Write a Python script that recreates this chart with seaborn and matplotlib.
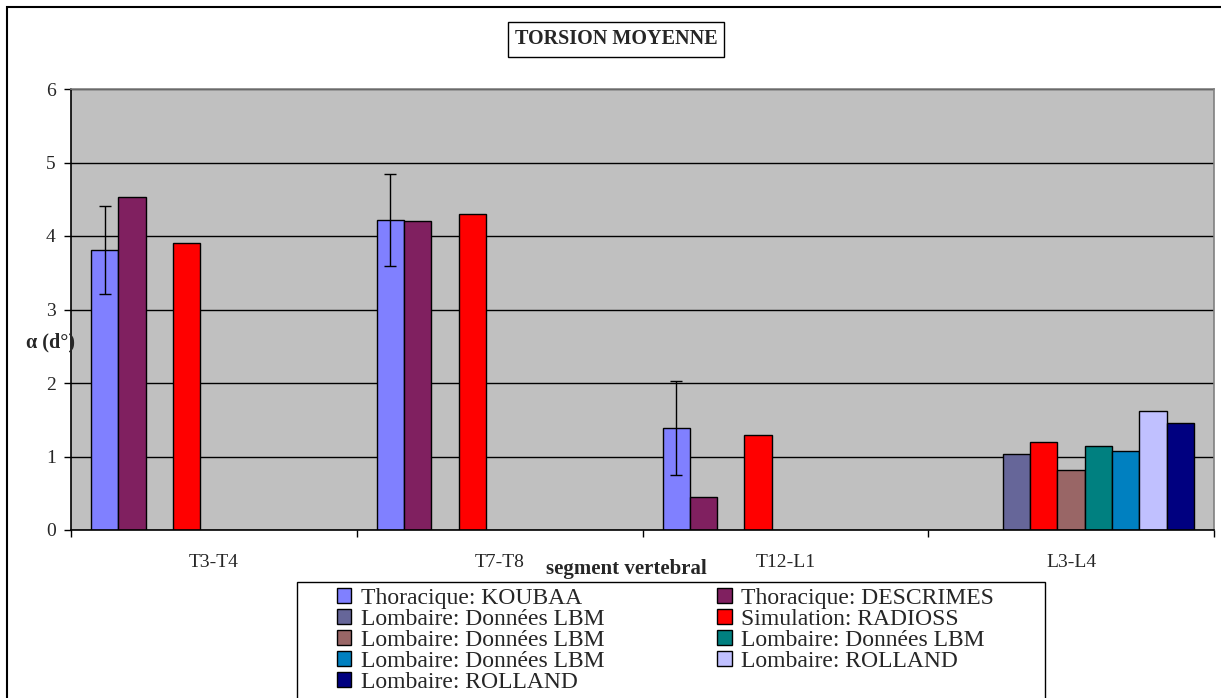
import matplotlib
matplotlib.use('Agg')
import matplotlib.pyplot as plt
from matplotlib.patches import Patch, Rectangle
import seaborn as sns
import pandas as pd
import numpy as np

# categories and series
segments = ['T3-T4', 'T7-T8', 'T12-L1', 'L3-L4']
series_labels = ['Thoracique: KOUBAA', 'Thoracique: DESCRIMES', 'Lombaire: Données LBM',
                 'Simulation: RADIOSS', 'Lombaire: Données LBM', 'Lombaire: Données LBM',
                 'Lombaire: Données LBM', 'Lombaire: ROLLAND', 'Lombaire: ROLLAND']
series_colors = ['#8080FF', '#802060', '#666699', '#FF0000', '#996666',
                 '#008080', '#0080C0', '#C0C0FF', '#000080']

nan = np.nan
koubaa = [3.81, 4.22, 1.39, nan]
koubaa_err = [0.60, 0.63, 0.64, nan]
descrimes = [4.53, 4.21, 0.45, nan]
lbm_1 = [nan, nan, nan, 1.04]
radioss = [3.90, 4.30, 1.29, 1.20]
lbm_2 = [nan, nan, nan, 0.82]
lbm_3 = [nan, nan, nan, 1.14]
lbm_4 = [nan, nan, nan, 1.07]
rolland_1 = [nan, nan, nan, 1.62]
rolland_2 = [nan, nan, nan, 1.45]

all_series = [koubaa, descrimes, lbm_1, radioss, lbm_2, lbm_3, lbm_4, rolland_1, rolland_2]
keys = ['s%d' % i for i in range(len(all_series))]

rows = []
for key, vals in zip(keys, all_series):
    for seg, v in zip(segments, vals):
        if not np.isnan(v):
            rows.append({'segment': seg, 'serie': key, 'value': v})
df = pd.DataFrame(rows)

W, H = 1221, 698
def fx(px):
    return px / W
def fy(py):
    return 1 - py / H

sns.set_style('white')
plt.rcParams['font.family'] = ['Liberation Serif', 'DejaVu Serif']

fig = plt.figure(figsize=(W / 100, H / 100), dpi=100)
ax = fig.add_axes([fx(71), fy(530), fx(1214) - fx(71), fy(89) - fy(530)])

sns.barplot(data=df, x='segment', y='value', hue='serie', hue_order=keys, order=segments,
            palette=dict(zip(keys, series_colors)), saturation=1, width=0.86, dodge=True,
            edgecolor='black', linewidth=1, errorbar=None, legend=False, ax=ax)

# error bars on KOUBAA
for bar in ax.containers[0]:
    xc = bar.get_x() + bar.get_width() / 2
    i = int(round(xc))
    ax.errorbar(xc, bar.get_height(), yerr=koubaa_err[i], color='black', lw=1,
                capsize=4, capthick=1, fmt='none', zorder=5)

ax.set_facecolor('#C0C0C0')
ax.set_axisbelow(True)
ax.set_xlim(-0.5, 3.5)
ax.set_ylim(0, 6)
ax.set_yticks(range(7))
ax.yaxis.grid(True, color='black', lw=1)
ax.xaxis.grid(False)
ax.set_xticks(range(4))
ax.set_xticklabels(segments)
ax.set_xticks(np.arange(-0.5, 4, 1), minor=True)
ax.tick_params(axis='x', which='major', length=0, pad=17, labelsize=14)
ax.tick_params(axis='x', which='minor', length=5, direction='out', color='black', width=1)
ax.tick_params(axis='y', length=5, direction='out', color='black', width=1, pad=6, labelsize=14)
ax.tick_params(bottom=True, left=True, which='both')
ax.set_xlabel('')
ax.set_ylabel('')
for s in ['left', 'bottom']:
    ax.spines[s].set_color('black')
    ax.spines[s].set_linewidth(1.2)
for s in ['top', 'right']:
    ax.spines[s].set_color('#808080')
    ax.spines[s].set_linewidth(1.2)

fig.text(fx(626), fy(569), 'segment vertebral', ha='center', va='center',
         fontsize=15, fontweight='bold')
fig.text(fx(50), fy(342), 'α (d°)', ha='center', va='center', fontsize=14.5, fontweight='bold')

fig.text(fx(616), fy(39.5), 'TORSION MOYENNE', ha='center', va='center', fontsize=14.5,
         fontweight='bold',
         bbox=dict(boxstyle='square,pad=0.35', fc='white', ec='black', lw=1))

# outer frame and legend frame (extending past the picture)
fig.patches.append(Rectangle((fx(7), -0.1), 2, fy(7) + 0.1, transform=fig.transFigure,
                             fill=False, ec='black', lw=1.5))
fig.patches.append(Rectangle((fx(297), -0.1), fx(1045) - fx(297), fy(582) + 0.1,
                             transform=fig.transFigure, fill=False, ec='black', lw=1))

handles = [Patch(facecolor=c, edgecolor='black', lw=1) for c in series_colors]
order = [0, 2, 4, 6, 8, 1, 3, 5, 7]
fig.legend([handles[i] for i in order], [series_labels[i] for i in order],
           ncol=2, frameon=False, loc='upper left', bbox_to_anchor=(fx(337), fy(588)),
           fontsize=17, handlelength=0.6, handleheight=0.6, handletextpad=0.4,
           labelspacing=0.0, columnspacing=4.8, borderpad=0, borderaxespad=0)

fig.savefig('out.png', dpi=100)
